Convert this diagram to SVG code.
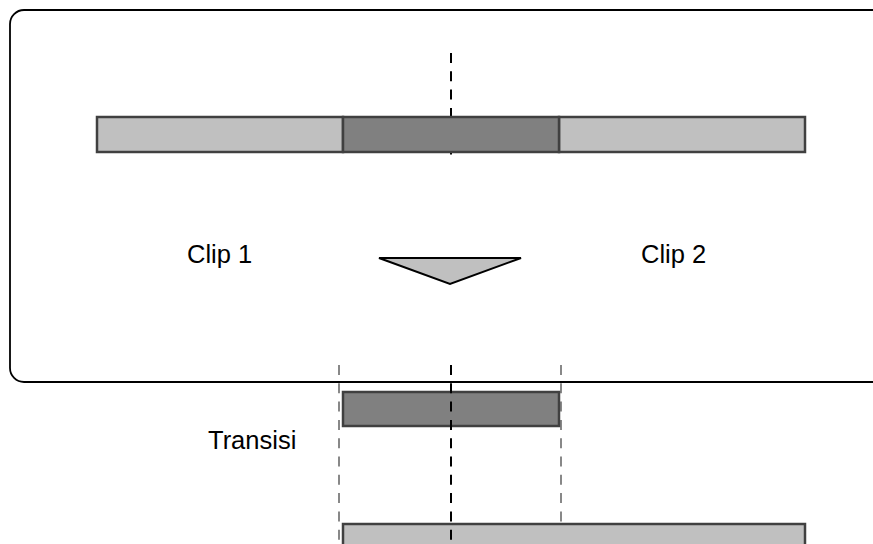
<svg xmlns="http://www.w3.org/2000/svg" width="873" height="544" viewBox="0 0 873 544">
<style>
.frame{fill:#fff;stroke:#000;stroke-width:1.8}
.light{fill:#c0c0c0;stroke:#404040;stroke-width:2.5}
.dark{fill:#808080;stroke:#404040;stroke-width:2.5}
.cut{fill:none;stroke:#000;stroke-width:2;stroke-dasharray:10 8.3}
.guide{fill:none;stroke:#888;stroke-width:2;stroke-dasharray:10 8.3}
.lbl{font-family:"Liberation Sans",Arial,sans-serif;font-size:25.5px;fill:#000}
</style>
<rect width="873" height="544" fill="#fff"/>
<g id="frame"><rect class="frame" x="10" y="10" width="900" height="372" rx="14"/></g>
<g id="connectors">
<line class="cut" x1="451" y1="53" x2="451" y2="157"/>
<line class="guide" x1="339" y1="365" x2="339" y2="544"/>
<line class="guide" x1="561" y1="365" x2="561" y2="544"/>
</g>
<g id="clip1-bar"><rect class="light" x="97" y="117" width="246" height="35"/></g>
<g id="clip2-bar"><rect class="light" x="559" y="117" width="246" height="35"/></g>
<g id="overlap-bar"><rect class="dark" x="343" y="117" width="216" height="35"/></g>
<g id="clip1-label"><text class="lbl" x="187" y="262.5">Clip 1</text></g>
<g id="clip2-label"><text class="lbl" x="641" y="262.5">Clip 2</text></g>
<g id="arrow"><polygon points="379,258 521,258 450,284" fill="#c0c0c0" stroke="#000" stroke-width="2" stroke-linejoin="miter"/></g>
<g id="transition-bar"><rect class="dark" x="343" y="392" width="216" height="34"/></g>
<g id="transition-label"><text class="lbl" x="208" y="449">Transisi</text></g>
<g id="result-bar"><rect class="light" x="343" y="524" width="462" height="40"/></g>
<g id="cut-lower"><line class="cut" x1="451" y1="365" x2="451" y2="544"/></g>
</svg>
